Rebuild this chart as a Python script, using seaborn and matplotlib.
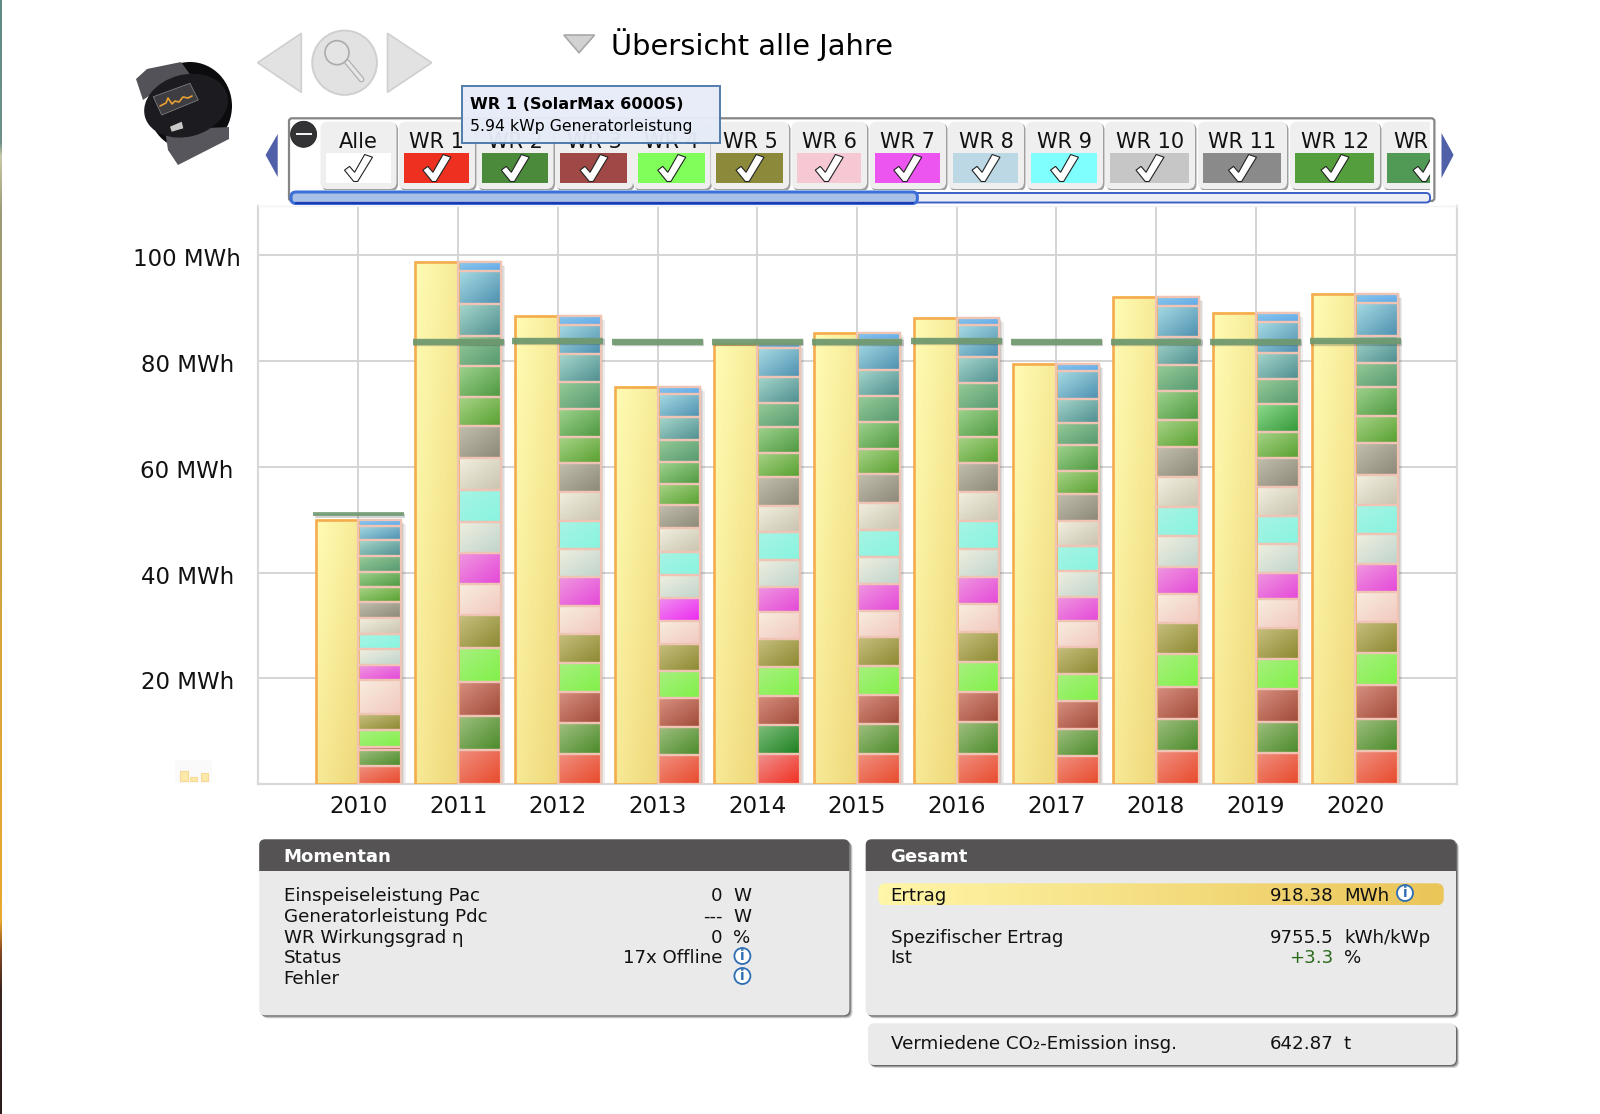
import numpy as np
import pandas as pd
import matplotlib
matplotlib.use('Agg')
import matplotlib.pyplot as plt
import matplotlib.patheffects as pe
from matplotlib.colors import to_rgb
from matplotlib.patches import Circle, Ellipse, FancyBboxPatch, Polygon, Rectangle
from matplotlib.transforms import ScaledTranslation
import seaborn as sns

years = [2010, 2011, 2012, 2013, 2014, 2015, 2016, 2017, 2018, 2019, 2020]
# yield per inverter (MWh), WR 1 at the bottom of each stack
wr_2010 = [3.37, 3.1, 0.67, 3.1, 2.97, 6.47, 2.83, 2.97, 2.97, 2.97, 2.97, 2.83, 2.97, 2.97, 2.97, 2.7, 1.08]
wr_2011 = [6.47, 6.47, 6.47, 6.34, 6.2, 5.8, 5.87, 6.0, 6.07, 5.93, 6.07, 5.39, 5.93, 5.73, 6.0, 6.27, 1.69]
wr_2012 = [5.8, 5.8, 5.8, 5.53, 5.53, 5.26, 5.39, 5.39, 5.26, 5.39, 5.53, 4.86, 5.39, 5.12, 5.26, 5.53, 1.62]
wr_2013 = [5.53, 5.39, 5.39, 5.12, 5.12, 4.32, 4.32, 4.32, 4.45, 4.45, 4.45, 3.91, 4.05, 4.18, 4.32, 4.45, 1.35]
wr_2014 = [5.66, 5.53, 5.53, 5.39, 5.39, 4.99, 4.86, 5.12, 5.12, 4.99, 5.39, 4.59, 4.99, 4.45, 4.99, 5.39, 0.81]
wr_2015 = [5.66, 5.66, 5.53, 5.53, 5.39, 4.99, 5.12, 5.12, 5.12, 5.12, 5.39, 4.72, 5.12, 4.86, 4.99, 5.53, 1.48]
wr_2016 = [5.8, 5.93, 5.8, 5.66, 5.53, 5.26, 5.12, 5.39, 5.26, 5.39, 5.53, 4.86, 5.39, 4.86, 4.99, 5.93, 1.48]
wr_2017 = [5.26, 5.26, 5.26, 5.12, 5.12, 4.86, 4.59, 4.86, 4.72, 4.72, 5.12, 4.32, 4.86, 4.18, 4.59, 5.26, 1.35]
wr_2018 = [6.2, 6.2, 6.07, 6.07, 5.93, 5.39, 5.26, 5.8, 5.53, 5.53, 5.8, 4.99, 5.53, 4.86, 5.26, 5.93, 1.75]
wr_2019 = [5.93, 5.93, 6.07, 5.8, 5.8, 5.39, 4.99, 5.53, 5.26, 5.39, 5.53, 4.86, 5.39, 4.72, 4.99, 5.8, 1.62]
wr_2020 = [6.2, 6.2, 6.34, 6.07, 5.93, 5.53, 5.26, 5.8, 5.53, 5.66, 5.93, 5.12, 5.53, 4.59, 4.99, 6.34, 1.62]
# target yield per year (green dashes)
targets = [50.98, 83.55, 83.75, 83.55, 83.55, 83.55, 83.75, 83.55, 83.55, 83.55, 83.7]
ytick_values = [20, 40, 60, 80, 100]
ytick_labels = ['20 MWh', '40 MWh', '60 MWh', '80 MWh', '100 MWh']

# gradient colours of every stack segment, light corner then dark corner
wr_light = ['#F09080', '#A0C080', '#D89080', '#A8F080', '#C8C080', '#F8EEDF', '#F098E0', '#F0F0E0', '#A8F4E4',
            '#F4F0E0', '#C4C0B0', '#A8D488', '#A0D490', '#98CC98', '#A8D8CC', '#A8DCE4', '#8CC8EC']
wr_dark = ['#E84A2C', '#4A8A2A', '#A04A38', '#80F048', '#8C8830', '#F2C8C0', '#E448D8', '#C0D4CC', '#88F4E0',
           '#C8C4B0', '#8C8878', '#58A030', '#4E9840', '#559870', '#4E8E90', '#4E90B0', '#60A8E8']
# the few segments that show up stronger in the picture: (year, inverter): colours
strong = {(2013, 6): ('#F090F0', '#EC28F0'), (2014, 0): ('#F09090', '#F03020'), (2014, 1): ('#80C080', '#1E8020'),
          (2019, 12): ('#90DC90', '#349838')}

# legend strip
button_labels = ['Alle', 'WR 1', 'WR 2', 'WR 3', 'WR 4', 'WR 5', 'WR 6', 'WR 7', 'WR 8', 'WR 9', 'WR 10', 'WR 11',
                 'WR 12', 'WR']
button_colors = ['#FFFFFF', '#EE3020', '#4A8A3A', '#A04845', '#80FF5A', '#8C8A3A', '#F5C8D4', '#EC55F0', '#BCD8E4',
                 '#80FFFF', '#C6C6C6', '#8A8A8A', '#559E3E', '#509A55']
button_left = [320.5, 398.7, 477, 555, 633, 711, 791.5, 869.5, 948, 1026, 1105, 1198, 1290, 1382]
button_right = [396.5, 475, 553.5, 633, 710.5, 789, 867, 946, 1024, 1103, 1195, 1287, 1380, 1450]

stacks = [wr_2010, wr_2011, wr_2012, wr_2013, wr_2014, wr_2015, wr_2016, wr_2017, wr_2018, wr_2019, wr_2020]
totals = [sum(s) for s in stacks]
positions = np.arange(len(years))
half = 0.43

W, H = 1600, 1114
sns.set_theme(style='white')
fig = plt.figure(figsize=(W / 100, H / 100), dpi=100)
ax = fig.add_axes([258 / W, 1 - 784.3 / H, (1457 - 258) / W, (784.3 - 206) / H])


def gradient_fill(axis, patch, light, dark, zorder=3):
    # diagonal gradient from top left to bottom right, put into a bar seaborn has drawn
    x0, y0, w, h = patch.get_x(), patch.get_y(), patch.get_width(), patch.get_height()
    u, v = np.meshgrid(np.linspace(0, 1, 40), np.linspace(0, 1, 40))
    t = ((u + v) / 2)[..., None]
    img = (1 - t) * np.array(to_rgb(light)) + t * np.array(to_rgb(dark))
    axis.imshow(img, extent=(x0, x0 + w, y0, y0 + h), origin='upper', aspect='auto', zorder=zorder, interpolation='bilinear')


soft_shadow = [pe.SimplePatchShadow(offset=(o, -o), shadow_rgbFace='k', alpha=0.08) for o in (3, 2, 1)] + [pe.Normal()]

# shadow bars under the stacks
n = len(ax.patches)
sns.barplot(x=positions + half / 2, y=totals, native_scale=True, color='white', width=half, errorbar=None, saturation=1,
            zorder=2, ax=ax)
for p in ax.patches[n:]:
    p.set_edgecolor('#F0B890')
    p.set_linewidth(1.6)
    p.set_path_effects(soft_shadow)

# total yield, yellow left half
n = len(ax.patches)
sns.barplot(x=positions - half / 2, y=totals, native_scale=True, color='white', width=half, errorbar=None, saturation=1,
            zorder=4, ax=ax)
for p in ax.patches[n:]:
    gradient_fill(ax, p, '#FFFCB4', '#EFD87A', zorder=3)
    p.set_facecolor('none')
    p.set_edgecolor('#F5AC4E')
    p.set_linewidth(1.9)

# stacked inverters, right half
matrix = np.array(stacks)
bottom = np.zeros(len(years))
for k in range(matrix.shape[1]):
    n = len(ax.patches)
    sns.barplot(x=positions + half / 2, y=matrix[:, k], bottom=bottom, native_scale=True, color='white', width=half,
                errorbar=None, saturation=1, zorder=4, ax=ax)
    for year, p in zip(years, ax.patches[n:]):
        light, dark = strong.get((year, k), (wr_light[k], wr_dark[k]))
        gradient_fill(ax, p, light, dark, zorder=3)
        p.set_facecolor('none')
        p.set_edgecolor('#EFC4B4')
        p.set_linewidth(1.6)
    bottom = bottom + matrix[:, k]

# target dashes
for i, t in zip(positions, targets):
    lw = 2.7 if t < 60 else 4.6
    ax.hlines(t, i - 0.455, i + 0.455, colors='#6F9A70', linewidth=lw, alpha=0.92, zorder=6,
              path_effects=[pe.SimpleLineShadow(offset=(1, -1), shadow_color='k', alpha=0.2), pe.Normal()])

ax.set_xlim(-1.008, 11.02)
ax.set_ylim(0, 109.26)
ax.set_xticks(positions)
ax.set_xticklabels(years, fontsize=16.6, color='#111111')
ax.set_yticks(ytick_values)
ax.set_yticklabels(ytick_labels, fontsize=16.5, color='#111111')
ax.tick_params(axis='x', length=0, pad=8)
ax.tick_params(axis='y', length=0, pad=51)
for lab in ax.get_yticklabels():
    lab.set_ha('center')
    lab.set_transform(lab.get_transform() + ScaledTranslation(0, -0.02, fig.dpi_scale_trans))
ax.grid(True, color='#D4D4D4', linewidth=1.4, zorder=1)
ax.set_axisbelow(True)
ax.set_xlabel('')
ax.set_ylabel('')
for side in ['left', 'right', 'bottom']:
    ax.spines[side].set_color('#D8D8D8')
    ax.spines[side].set_linewidth(1.6)
ax.spines['top'].set_color('#F2F2F2')
ax.spines['top'].set_linewidth(1)

# everything around the chart: overlay axes in pixel units
ui = fig.add_axes([0, 0, 1, 1], zorder=10)
ui.set_xlim(0, W)
ui.set_ylim(H, 0)
ui.axis('off')
ui.patch.set_alpha(0)


def box(x0, y0, x1, y1, fc, ec='none', lw=0, r=5, shadow=False, z=2):
    if shadow:
        for o, a in ((3, 0.18), (2, 0.3), (1, 0.4)):
            ui.add_patch(FancyBboxPatch((x0 + r + o, y0 + r + o), x1 - x0 - 2 * r, y1 - y0 - 2 * r,
                                        boxstyle=f'round,pad={r},rounding_size={r}', fc='k', ec='none', alpha=a, zorder=z - 0.5))
    b = FancyBboxPatch((x0 + r, y0 + r), x1 - x0 - 2 * r, y1 - y0 - 2 * r, boxstyle=f'round,pad={r},rounding_size={r}',
                       fc=fc, ec=ec, lw=lw, zorder=z)
    ui.add_patch(b)
    return b


def label(x, y, s, size=13.15, ha='left', color='#111111', weight='normal', z=5):
    ui.text(x, y + 1, s, fontsize=size, ha=ha, va='center', color=color, fontweight=weight, zorder=z)


def info(x, y):
    ui.add_patch(Circle((x, y), 8, fc='white', ec='#2E6DB4', lw=1.3, zorder=5))
    ui.text(x, y, 'i', fontsize=10, fontweight='bold', ha='center', va='center', color='#2E6DB4', zorder=6)


def strip_gradient(x0, y0, x1, y1, colors, z=3, clip=None):
    t = np.linspace(0, 1, 100)[None, :, None]
    img = (1 - t) * np.array(to_rgb(colors[0])) + t * np.array(to_rgb(colors[1]))
    im = ui.imshow(img, extent=(x0, x1, y1, y0), aspect='auto', zorder=z)
    if clip is not None:
        im.set_clip_path(clip)


# left edge of the screenshot, a thin blurred strip
edge_y = [0, 142, 156, 213, 355, 640, 920, 950, 990, 1114]
edge_c = ['#5F8A86', '#6F9088', '#C8C8A8', '#9A9A78', '#B09A58', '#D9A53A', '#E8A830', '#8A4A20', '#3A2420', '#2C1C1C']
rows = np.arange(H)
edge_rgb = np.array([to_rgb(c) for c in edge_c])
edge_img = np.stack([np.interp(rows, edge_y, edge_rgb[:, j]) for j in range(3)], axis=1)[:, None, :]
ui.imshow(edge_img, extent=(0, 2, H, 0), aspect='auto', zorder=1)

# navigation arrows and zoom button
nav_fc, nav_ec = '#E2E2E2', '#CFCFCF'
ui.add_patch(Polygon([(257.6, 62.7), (301.3, 33.3), (301.3, 92.3)], fc=nav_fc, ec=nav_ec, lw=1.2))
ui.add_patch(Polygon([(387.5, 33.3), (387.5, 92.3), (431.7, 62.7)], fc=nav_fc, ec=nav_ec, lw=1.2))
ui.add_patch(Ellipse((344.6, 62.7), 64.7, 64.3, fc=nav_fc, ec=nav_ec, lw=1.4))
ui.plot([347, 361.5], [62, 79.5], color='#B0B0B0', lw=4.2, solid_capstyle='round', zorder=3)
ui.plot([347, 361.5], [62, 79.5], color='#E8E8E8', lw=2.4, solid_capstyle='round', zorder=3)
ui.add_patch(Circle((337, 52.7), 12, fc='#E4E4E4', ec='#ABABAB', lw=1.2, zorder=4))
ui.add_patch(Polygon([(563.8, 35), (594.6, 35), (579, 52.7)], fc='#D2D2D2', ec='#A8A8A8', lw=1.2))
label(611, 44, 'Übersicht alle Jahre', size=20.8, color='black')

# device icon
ui.add_patch(Ellipse((190, 106), 84, 88, fc='#0C0C0E', ec='none', zorder=2))
ui.add_patch(Polygon([(136, 79), (147, 69), (181, 62), (192, 77), (165, 85), (143, 100)], fc='#525258', ec='none', zorder=3))
ui.add_patch(Polygon([(165, 130), (229, 127), (229, 139), (178, 165), (168, 150)], fc='#56565C', ec='none', zorder=3))
ui.add_patch(Ellipse((186, 105.7), 85, 62, angle=-15, fc='#1C1C20', ec='none', zorder=4))
ui.add_patch(Polygon([(153.3, 96.7), (190, 83.3), (198.3, 100), (161.7, 115)], fc='#3E3E42', ec='#8A8A8A', lw=0.5, zorder=5))
ui.plot([160, 166, 168, 172, 175, 179, 183, 188, 192], [106, 103, 98, 104, 101, 102, 97, 98, 96], color='#E8A030', lw=1.2, zorder=6)
ui.add_patch(Polygon([(170, 126.7), (181.7, 121.7), (183.3, 128.3), (171.7, 131.7)], fc='#C8C8C8', ec='none', zorder=5))

# legend strip frame and scroll bar
box(289, 118.3, 1434.4, 201, 'white', ec='#858585', lw=1.6, r=3, z=1.5)
ui.add_patch(Polygon([(277.7, 134), (265.6, 155), (277.7, 177)], fc='#4F5FA8', ec='none'))
ui.add_patch(Polygon([(1441.5, 133), (1453.6, 155), (1441.5, 178)], fc='#4F5FA8', ec='none'))
clip_rect = Rectangle((289, 118), 1430 - 289, 72, transform=ui.transData)
check_shape = [(0, 0.58), (0.18, 0.44), (0.36, 0.66), (0.72, 0), (1, 0.1), (0.47, 1), (0.33, 1)]
for name, c, x0, x1 in zip(button_labels, button_colors, button_left, button_right):
    shadow = box(x0 + 1.5, 123, x1 + 1.5, 191, '#A0A0A0', r=7, z=2)
    shadow.set_clip_path(clip_rect)
    btn = box(x0, 121.7, x1, 189, '#EFEFEF', r=7, z=2.2)
    btn.set_clip_path(clip_rect)
    sw = Rectangle((x0 + 5, 152.7), x1 - x0 - 11, 30, fc=c, ec='none', zorder=3)
    ui.add_patch(sw)
    sw.set_clip_path(clip_rect)
    cx = (x0 + x1) / 2 if name != 'WR' else 1427
    label(cx if name != 'WR' else 1411, 140.5, name, size=15, ha='center')
    ck = Polygon([(cx - 14 + 28 * a, 154.5 + 27 * b) for a, b in check_shape], fc='white', ec='#222222', lw=0.8, zorder=4)
    ui.add_patch(ck)
    ck.set_clip_path(clip_rect)
ui.add_patch(Circle((303.6, 134.3), 13, fc='#333335', ec='#222222', lw=0.6, zorder=6))
ui.add_patch(Rectangle((295.5, 133), 16, 2.4, fc='#F2F2F2', ec='none', zorder=7))
box(291, 193, 1430, 202.5, '#EDEFF4', ec='#3A60C8', lw=1.4, r=4, z=3)
box(291, 192, 917.4, 203.5, '#A9C0E6', ec='#3D6FD8', lw=2.2, r=5, z=3.2)
ui.plot([296, 913], [203.4, 203.4], color='#1A3CB0', lw=1.6, zorder=3.4)

# tooltip
ui.add_patch(Rectangle((461.6, 85.7), 258, 57.6, fc='#E6ECF8', ec='#4A78A8', lw=1.4, alpha=0.96, zorder=8))
label(470.5, 103.5, 'WR 1 (SolarMax 6000S)', size=11.6, weight='bold', color='black', z=9)
label(470.5, 126, '5.94 kWp Generatorleistung', size=11.3, color='black', z=9)

# small thumbnail left of the chart
box(175, 760, 212, 783, '#FAFAFA', r=2, z=1)
for x0, x1, y0 in ((180, 187.7, 771), (190, 197.3, 777.3), (200.7, 208.3, 773.3)):
    ui.add_patch(Rectangle((x0, y0), x1 - x0, 780.7 - y0, fc='#FBE9A8', ec='#F8D898', lw=0.8, zorder=2))

# panel Momentan
box(259.2, 839.3, 849.4, 1015.3, '#EAEAEA', r=6, shadow=True)
head = box(259.2, 839.3, 849.4, 880, '#555354', r=6, z=3)
head.set_clip_path(Rectangle((259, 839), 591, 31.7, transform=ui.transData))
label(283.7, 855.5, 'Momentan', size=13.1, weight='bold', color='white')
now_names = ['Einspeiseleistung Pac', 'Generatorleistung Pdc', 'WR Wirkungsgrad η', 'Status', 'Fehler']
now_values = ['0', '---', '0', '17x Offline', '']
now_units = ['W', 'W', '%', '', '']
now_rows = [895, 915.7, 936.7, 957.3, 977.7]
for y, a, b, c in zip(now_rows, now_names, now_values, now_units):
    label(283.7, y, a)
    label(722.4, y, b, ha='right')
    label(733, y, c)
info(742.4, 956)
info(742.4, 976)

# panel Gesamt
box(865.7, 839.3, 1456, 1015.3, '#EAEAEA', r=6, shadow=True)
head = box(865.7, 839.3, 1456, 880, '#555354', r=6, z=3)
head.set_clip_path(Rectangle((865, 839), 592, 31.7, transform=ui.transData))
label(890.6, 855.5, 'Gesamt', size=13.1, weight='bold', color='white')
bar_box = box(878.4, 883.3, 1443.7, 905.3, 'none', r=7, z=3)
strip_gradient(878.4, 883.3, 1443.7, 905.3, ('#FFF6A8', '#EAC558'), clip=bar_box)
label(890.6, 895, 'Ertrag')
label(1333.5, 895, '918.38', ha='right')
label(1344, 895, 'MWh')
info(1405, 893)
label(890.6, 936.7, 'Spezifischer Ertrag')
label(1333.5, 936.7, '9755.5', ha='right')
label(1344, 936.7, 'kWh/kWp')
label(890.6, 957.3, 'Ist')
label(1333.5, 957.3, '+3.3', ha='right', color='#2A6A1A')
label(1344, 957.3, '%')

# CO2 panel
box(868, 1023.3, 1456, 1065, '#EAEAEA', r=6, shadow=True)
label(890.6, 1043.3, 'Vermiedene CO₂-Emission insg.')
label(1333.5, 1043.3, '642.87', ha='right')
label(1344, 1043.3, 't')

ui.set_xlim(0, W)
ui.set_ylim(H, 0)
fig.savefig('out.png', dpi=100, facecolor='white')
